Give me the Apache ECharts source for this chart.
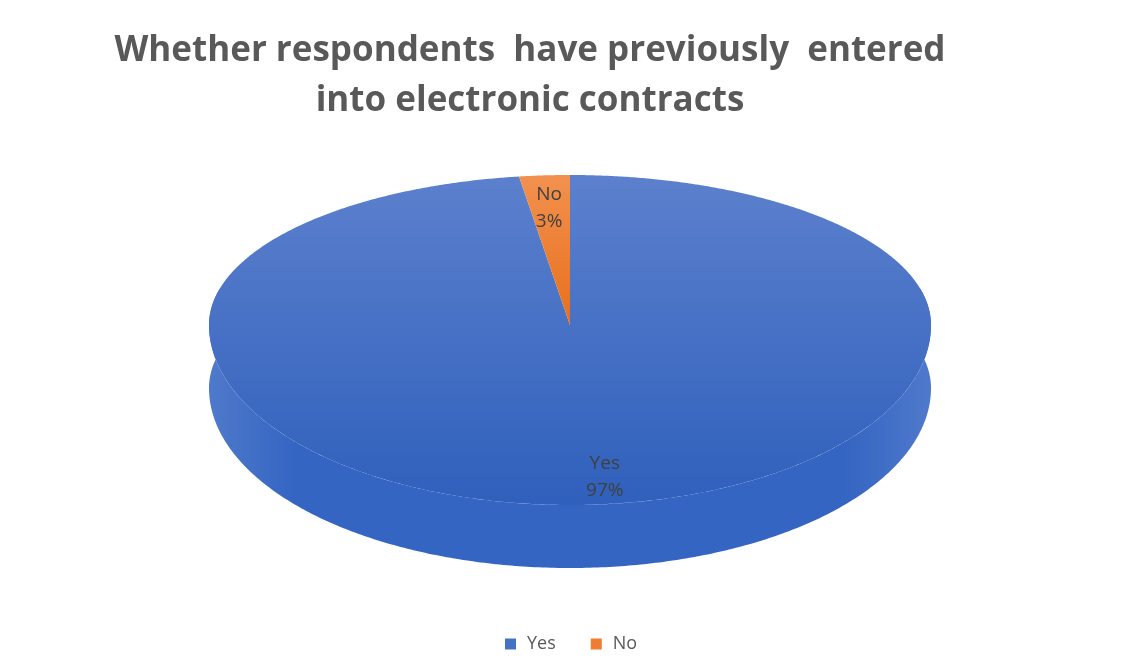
<!DOCTYPE html>
<html>
<head>
<meta charset="utf-8">
<script src="https://cdn.jsdelivr.net/npm/echarts@6/dist/echarts.min.js"></script>
<style>
  html, body { margin: 0; padding: 0; background: #ffffff; }
  #chart { width: 1123px; height: 668px; }
</style>
</head>
<body>
<div id="chart"></div>
<script>
// Survey answers
const categories = ['Yes', 'No'];
const values = [97, 3];
const titleText = 'Whether respondents  have previously  entered\ninto electronic contracts';

// Office palette: flat colour (legend) plus light/dark tones for the 3D faces
const baseColors = ['#4472c4', '#ed7d31'];
const topLight = ['#5c80cd', '#f2914f'];
const topDark = ['#2f60bc', '#e86f1b'];
const sideEdge = ['#4f79cb', '#f08a45'];
const sideMid = ['#3465c2', '#e06a18'];

// Tilted disc geometry (pixels): the back half is flattened more than the front,
// and angles are squeezed towards the back to mimic the viewing perspective
const geo = { cx: 570, cy: 325, rx: 361, ryBack: 150, ryFront: 180, depth: 63, warp: 0.25, labelR: 0.82, labelDy: 6 };

// Point on the disc: angle clockwise from 12 o'clock, r as a fraction of the radius
function pt(theta, r, dy) {
  const phi = theta - geo.warp * Math.sin(theta);
  const s = Math.sin(phi), c = Math.cos(phi);
  const ry = c > 0 ? geo.ryBack : geo.ryFront;
  return [geo.cx + geo.rx * r * s, geo.cy - ry * r * c + (dy || 0)];
}

function renderSlice(i, api) {
  const total = values.reduce((a, b) => a + b, 0);
  let start = 0;
  for (let k = 0; k < i; k++) start += values[k];
  const v = api.value(0);
  const a0 = start / total * 2 * Math.PI;
  const a1 = (start + v) / total * 2 * Math.PI;
  const step = Math.PI / 360;

  const children = [];

  // Visible rim wall on the front half
  const lo = Math.max(a0, Math.PI / 2), hi = Math.min(a1, 3 * Math.PI / 2);
  if (hi > lo) {
    const m = Math.ceil((hi - lo) / step);
    const wall = [];
    for (let k = 0; k <= m; k++) wall.push(pt(lo + (hi - lo) * k / m, 1, 0));
    for (let k = m; k >= 0; k--) wall.push(pt(lo + (hi - lo) * k / m, 1, geo.depth));
    children.push({
      type: 'polygon',
      shape: { points: wall },
      style: {
        fill: new echarts.graphic.LinearGradient(0, 0, 1, 0, [
          { offset: 0, color: sideEdge[i] },
          { offset: 0.12, color: sideMid[i] },
          { offset: 0.88, color: sideMid[i] },
          { offset: 1, color: sideEdge[i] }
        ])
      }
    });
  }

  // Top face of the slice
  const n = Math.max(2, Math.ceil((a1 - a0) / step));
  const top = [pt(a0, 0)];
  for (let k = 0; k <= n; k++) top.push(pt(a0 + (a1 - a0) * k / n, 1));
  children.push({
    type: 'polygon',
    shape: { points: top },
    style: {
      fill: new echarts.graphic.LinearGradient(0, 0, 0, 1, [
        { offset: 0, color: topLight[i] },
        { offset: 1, color: topDark[i] }
      ])
    }
  });

  // Category and share label inside the slice
  const mid = (a0 + a1) / 2;
  const lp = pt(mid, geo.labelR, geo.labelDy);
  children.push({
    type: 'text',
    x: lp[0],
    y: lp[1],
    style: {
      text: categories[i] + '\n' + Math.round(v / total * 100) + '%',
      fill: '#404040',
      fontSize: 19,
      fontFamily: '"Open Sans"',
      align: 'center',
      verticalAlign: 'middle',
      lineHeight: 27
    }
  });

  return { type: 'group', children: children };
}

const chart = echarts.init(document.getElementById('chart'), null, { renderer: 'canvas' });
chart.setOption({
  backgroundColor: '#ffffff',
  animation: false,
  title: {
    text: titleText,
    left: 525,
    top: 21,
    textAlign: 'center',
    textStyle: {
      fontFamily: '"Open Sans"',
      fontSize: 35,
      fontWeight: 'bold',
      color: '#595959',
      lineHeight: 50
    }
  },
  legend: {
    data: categories,
    left: 505,
    top: 635,
    padding: 0,
    icon: 'rect',
    itemWidth: 11,
    itemHeight: 11,
    itemGap: 35,
    selectedMode: false,
    textStyle: {
      fontFamily: '"Open Sans"',
      fontSize: 18,
      color: '#595959',
      padding: [0, 0, 0, 6]
    }
  },
  series: categories.map((name, i) => ({
    type: 'custom',
    name: name,
    coordinateSystem: 'none',
    silent: true,
    itemStyle: { color: baseColors[i] },
    data: [values[i]],
    renderItem: (params, api) => renderSlice(i, api)
  }))
});
</script>
</body>
</html>
